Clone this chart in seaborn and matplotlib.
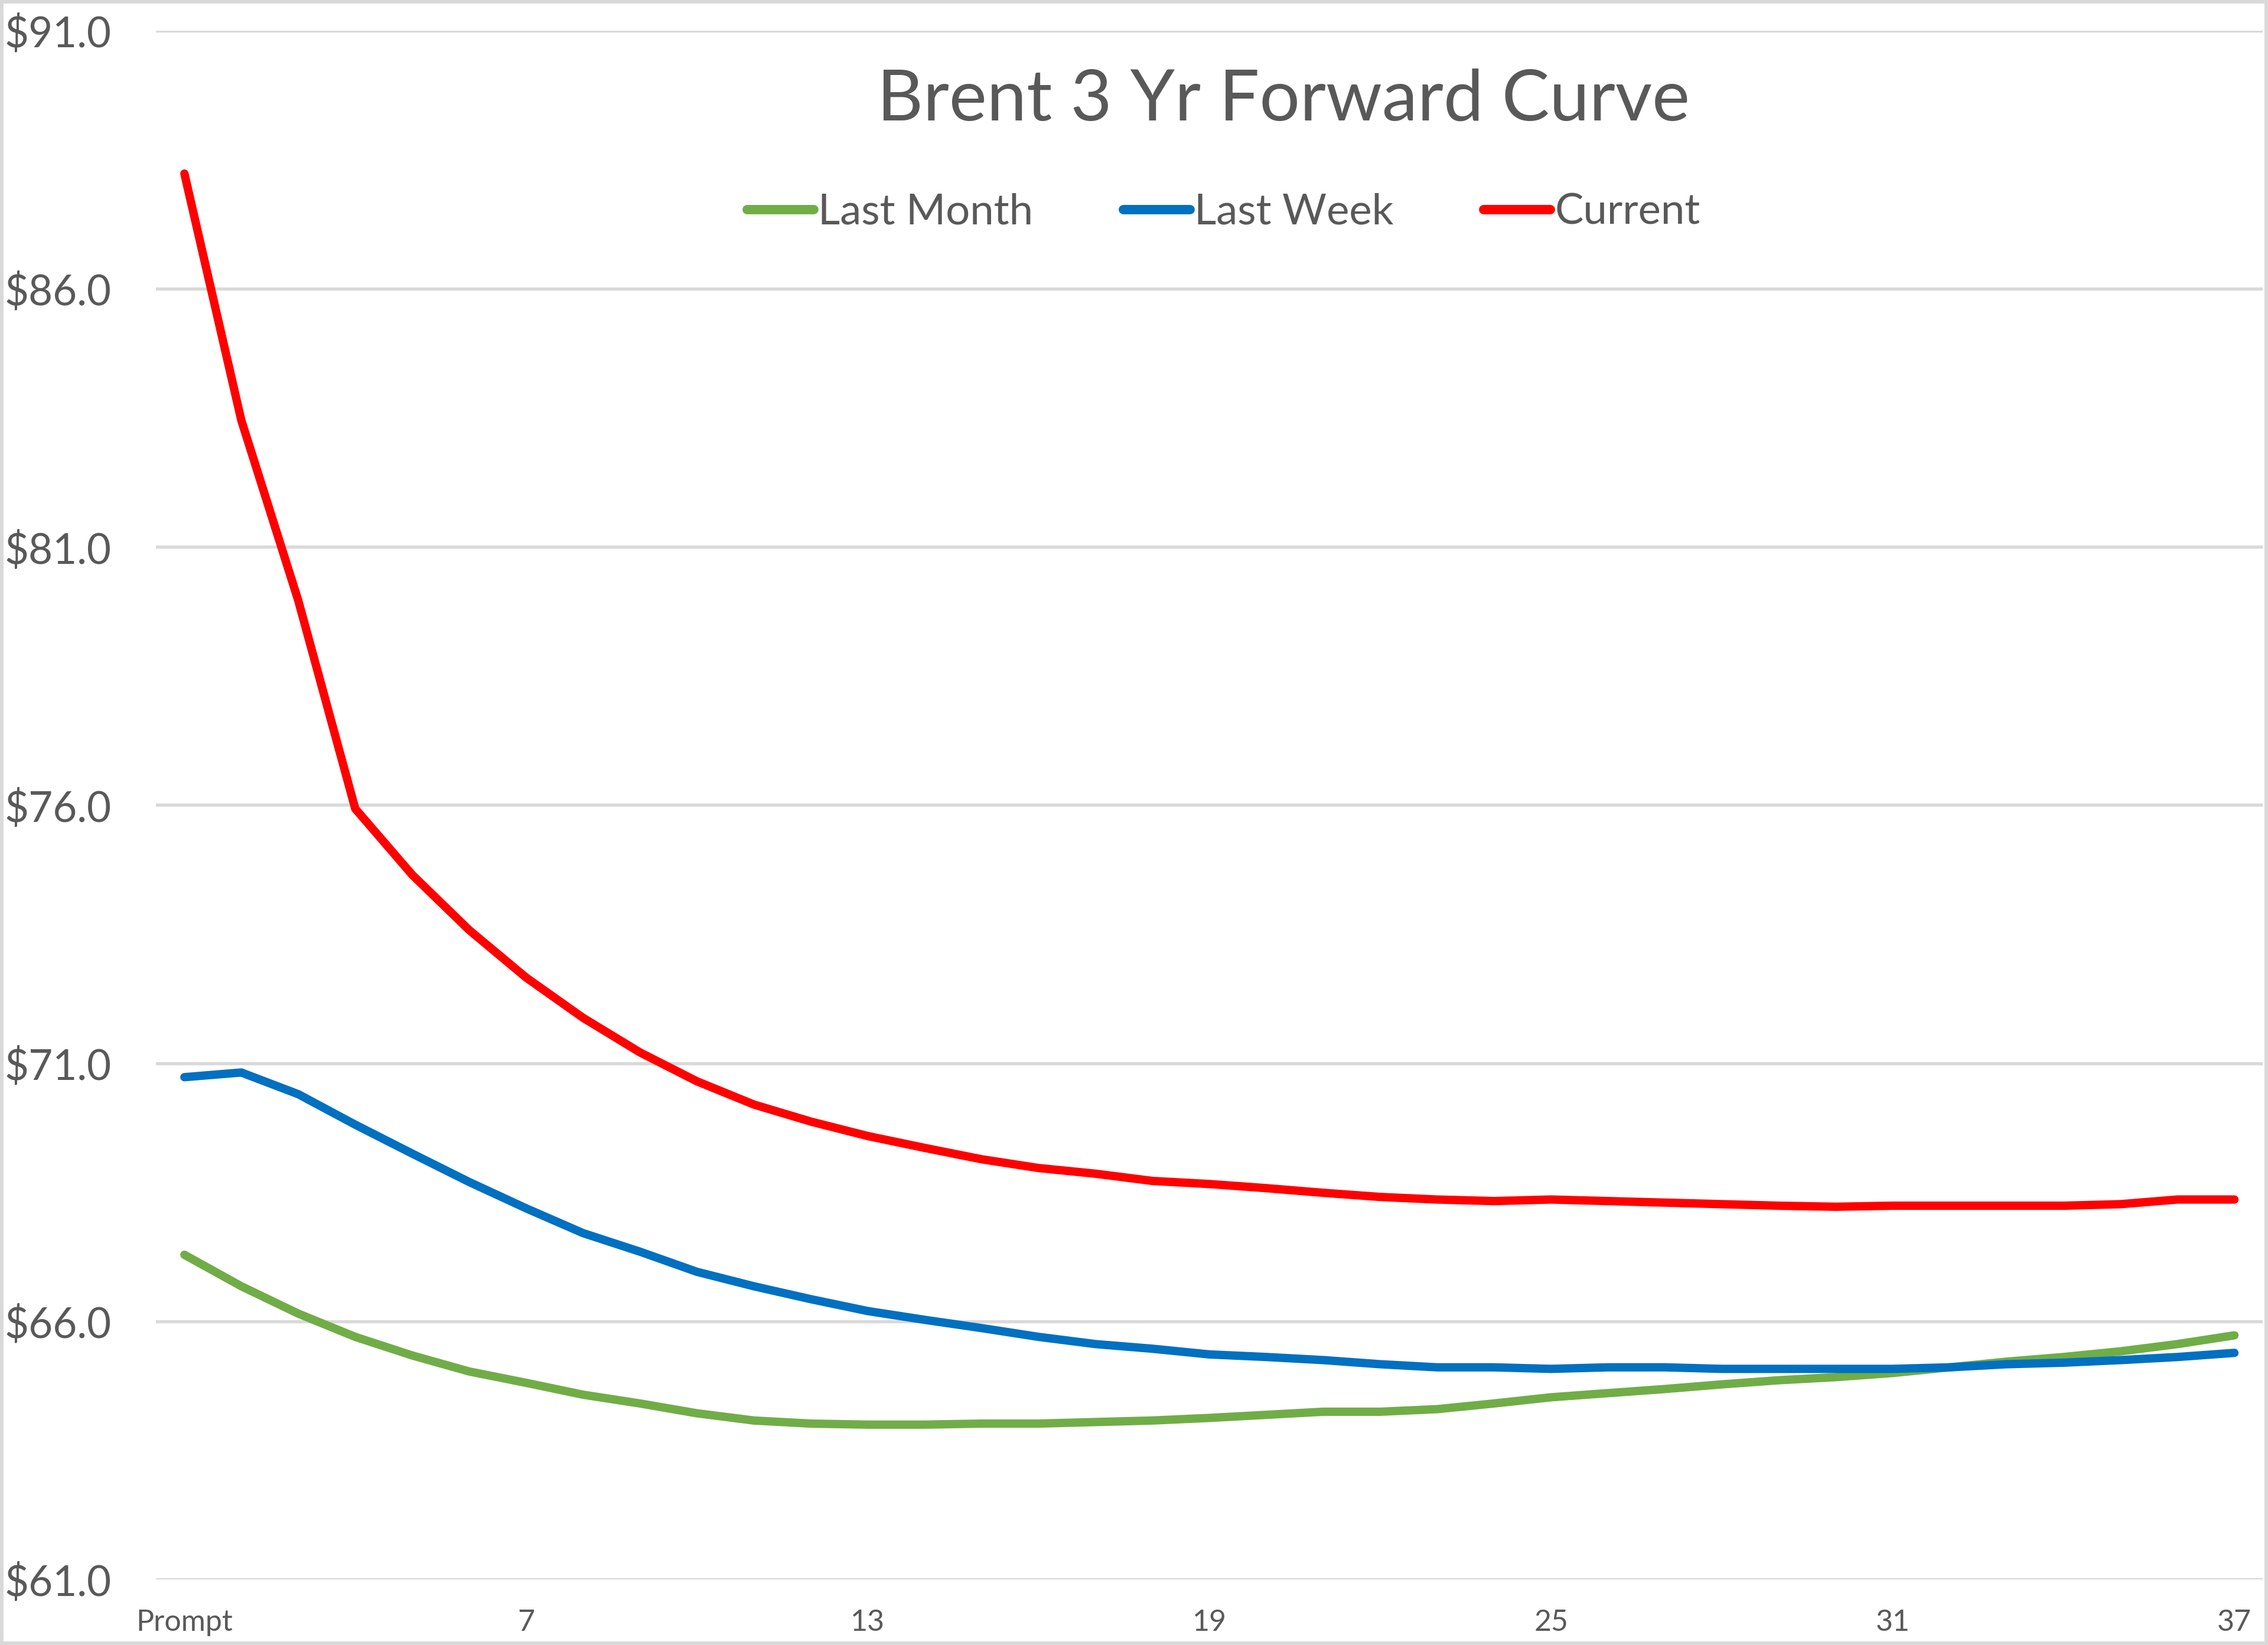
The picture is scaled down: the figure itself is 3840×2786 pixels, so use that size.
import seaborn as sns
import matplotlib.pyplot as plt
import pandas as pd

# contract months 1 (prompt) .. 37
months = list(range(1, 38))

last_month = [67.29, 66.68, 66.15, 65.70, 65.34, 65.03, 64.81, 64.58, 64.41, 64.22,
              64.08, 64.02, 64.00, 64.00, 64.02, 64.02, 64.05, 64.08, 64.13, 64.19,
              64.25, 64.25, 64.30, 64.41, 64.53, 64.61, 64.69, 64.78, 64.86, 64.92,
              65.00, 65.11, 65.22, 65.31, 65.42, 65.56, 65.73]
last_week = [70.73, 70.82, 70.40, 69.81, 69.25, 68.70, 68.19, 67.71, 67.35, 66.96,
             66.68, 66.43, 66.20, 66.03, 65.87, 65.70, 65.56, 65.47, 65.36, 65.31,
             65.25, 65.17, 65.11, 65.11, 65.08, 65.11, 65.11, 65.08, 65.08, 65.08,
             65.08, 65.11, 65.17, 65.20, 65.25, 65.31, 65.39]
current = [88.23, 83.45, 79.96, 75.93, 74.65, 73.58, 72.66, 71.88, 71.21, 70.65,
           70.20, 69.87, 69.59, 69.36, 69.14, 68.97, 68.86, 68.72, 68.66, 68.58,
           68.49, 68.41, 68.36, 68.33, 68.36, 68.33, 68.30, 68.27, 68.24, 68.22,
           68.24, 68.24, 68.24, 68.24, 68.27, 68.36, 68.36]

series_names = ["Last Month", "Last Week", "Current"]
series_colors = ["#70AD47", "#0070C0", "#FF0000"]

x_ticks = [1, 7, 13, 19, 25, 31, 37]
x_tick_labels = ["Prompt", "7", "13", "19", "25", "31", "37"]
y_ticks = [61, 66, 71, 76, 81, 86, 91]

df = pd.DataFrame({
    "month": months * 3,
    "price": last_month + last_week + current,
    "series": sum([[n] * len(months) for n in series_names], []),
})

sns.set_theme(style="white")
plt.rcParams["font.family"] = ["Lato", "DejaVu Sans"]
text_color = "#595959"

fig = plt.figure(figsize=(12.8, 9.2867), dpi=300)
fig.patch.set_edgecolor("#D9D9D9")
fig.patch.set_linewidth(2.5)
ax = fig.add_axes([0.06875, 0.0398, 0.929, 0.9416])

sns.lineplot(data=df, x="month", y="price", hue="series", hue_order=series_names,
             palette=series_colors, linewidth=3.4, ax=ax, legend=True)

ax.set_xlim(0.5, 37.5)
ax.set_ylim(61, 91)
ax.set_yticks(y_ticks)
ax.set_yticklabels([f"${v:.1f}" for v in y_ticks])
ax.set_xticks(x_ticks)
ax.set_xticklabels(x_tick_labels)
ax.yaxis.grid(True, color="#D9D9D9", linewidth=1.3)
ax.set_axisbelow(True)
for s in ax.spines.values():
    s.set_visible(False)
ax.tick_params(axis="y", length=0, pad=18, labelsize=17, labelcolor=text_color)
ax.tick_params(axis="x", length=0, pad=12, labelsize=12, labelcolor=text_color)
ax.set_xlabel("")
ax.set_ylabel("")

fig.text(0.566, 0.939, "Brent 3 Yr Forward Curve", ha="center", va="center",
         fontsize=29, color=text_color)

handles, labels = ax.get_legend_handles_labels()
leg = ax.legend(handles, labels, loc="center", bbox_to_anchor=(0.5395, 0.871),
                bbox_transform=fig.transFigure, ncol=3, frameon=False,
                fontsize=17.4, handlelength=1.56, handletextpad=0.1, columnspacing=2.1)
for t in leg.get_texts():
    t.set_color(text_color)
for line in leg.get_lines():
    line.set_linewidth(3.8)

fig.savefig("out.png", dpi=300)
